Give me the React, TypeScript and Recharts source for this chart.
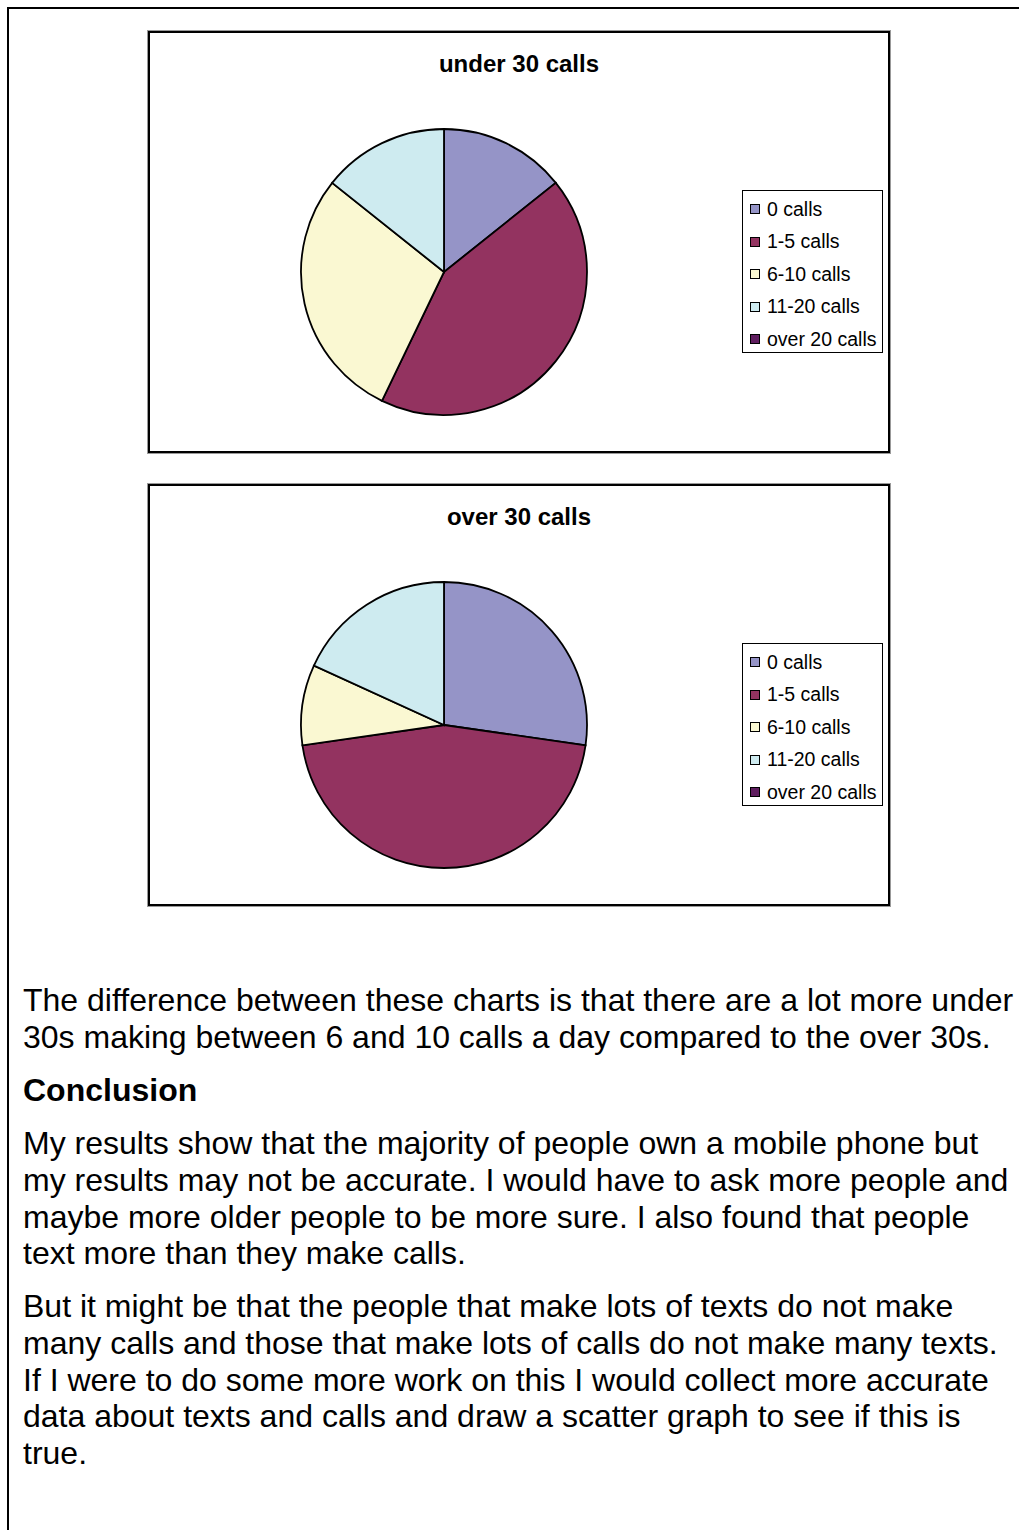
import { PieChart, Pie, Cell, Legend } from "recharts";

const categories = ["0 calls", "1-5 calls", "6-10 calls", "11-20 calls", "over 20 calls"];
const under30Values = [1, 3, 2, 1, 0];
const over30Values = [3, 5, 1, 2, 0];
const sliceColors = ["#9594C7", "#933360", "#FAF8D2", "#CEEBF0", "#5F1D5F"];

const paragraph1 = [
  "The difference between these charts is that there are a lot more under",
  "30s making between 6 and 10 calls a day compared to the over 30s.",
];
const heading = "Conclusion";
const paragraph2 = [
  "My results show that the majority of people own a mobile phone but",
  "my results may not be accurate. I would have to ask more people and",
  "maybe more older people to be more sure. I also found that people",
  "text more than they make calls.",
];
const paragraph3 = [
  "But it might be that the people that make lots of texts do not make",
  "many calls and those that make lots of calls do not make many texts.",
  "If I were to do some more work on this I would collect more accurate",
  "data about texts and calls and draw a scatter graph to see if this is",
  "true.",
];

const FONT = '"Liberation Sans", Arial, sans-serif';

// legend order follows the category list, not recharts' payload
function LegendBox() {
  return (
    <div
      style={{
        width: 141,
        height: 163,
        boxSizing: "border-box",
        border: "1px solid #000",
        background: "#fff",
        paddingTop: 2,
        fontFamily: FONT,
        fontSize: 19.5,
      }}
    >
      {categories.map((label, i) => (
        <div
          key={label}
          style={{ height: 32.5, display: "flex", alignItems: "center", whiteSpace: "nowrap" }}
        >
          <span
            style={{
              display: "inline-block",
              width: 8,
              height: 8,
              marginLeft: 7,
              marginRight: 7,
              background: sliceColors[i],
              border: "1px solid #000",
            }}
          />
          <span>{label}</span>
        </div>
      ))}
    </div>
  );
}

function CallPie({ title, values, top }: { title: string; values: number[]; top: number }) {
  const data = categories.map((name, i) => ({ name, value: values[i] }));
  return (
    <div
      style={{
        position: "absolute",
        left: 148,
        top,
        width: 742,
        height: 422,
        boxSizing: "border-box",
        border: "2px solid #000",
        boxShadow: "0 0 0 1px #999",
        background: "#fff",
      }}
    >
      <div
        style={{
          position: "absolute",
          left: 0,
          top: 17,
          width: 738,
          textAlign: "center",
          fontFamily: FONT,
          fontWeight: "bold",
          fontSize: 24,
          lineHeight: "28px",
        }}
      >
        {title}
      </div>
      <PieChart width={738} height={418} margin={{ top: 0, right: 0, bottom: 0, left: 0 }}>
        <Pie
          data={data}
          dataKey="value"
          nameKey="name"
          cx={294}
          cy={239}
          outerRadius={143}
          startAngle={90}
          endAngle={-270}
          stroke="#000"
          strokeWidth={1.8}
          isAnimationActive={false}
          legendType="square"
        >
          {data.map((d, i) => (
            <Cell key={d.name} fill={sliceColors[i]} />
          ))}
        </Pie>
        <Legend
          layout="vertical"
          align="right"
          verticalAlign="middle"
          content={<LegendBox />}
          wrapperStyle={{ left: 592, top: 157, width: 141, height: 163, right: "auto", bottom: "auto" }}
        />
      </PieChart>
    </div>
  );
}

function TextLines({ lines, top, bold }: { lines: string[]; top: number; bold?: boolean }) {
  return (
    <div
      style={{
        position: "absolute",
        left: 23,
        top,
        fontFamily: FONT,
        fontSize: 32,
        lineHeight: "36.8px",
        fontWeight: bold ? "bold" : "normal",
        color: "#000",
      }}
    >
      {lines.map((l) => (
        <div key={l} style={{ whiteSpace: "nowrap" }}>
          {l}
        </div>
      ))}
    </div>
  );
}

export default function App() {
  return (
    <div
      style={{
        position: "absolute",
        left: 0,
        top: 0,
        width: 1019,
        height: 1530,
        overflow: "hidden",
        background: "#fff",
      }}
    >
      <div
        style={{
          position: "absolute",
          left: 7,
          top: 7,
          width: 1012,
          height: 1523,
          borderTop: "2px solid #000",
          borderLeft: "2px solid #000",
          boxSizing: "border-box",
        }}
      />
      <CallPie title="under 30 calls" values={under30Values} top={31} />
      <CallPie title="over 30 calls" values={over30Values} top={484} />
      <TextLines lines={paragraph1} top={982} />
      <TextLines lines={[heading]} top={1072} bold />
      <TextLines lines={paragraph2} top={1125} />
      <TextLines lines={paragraph3} top={1288} />
    </div>
  );
}
